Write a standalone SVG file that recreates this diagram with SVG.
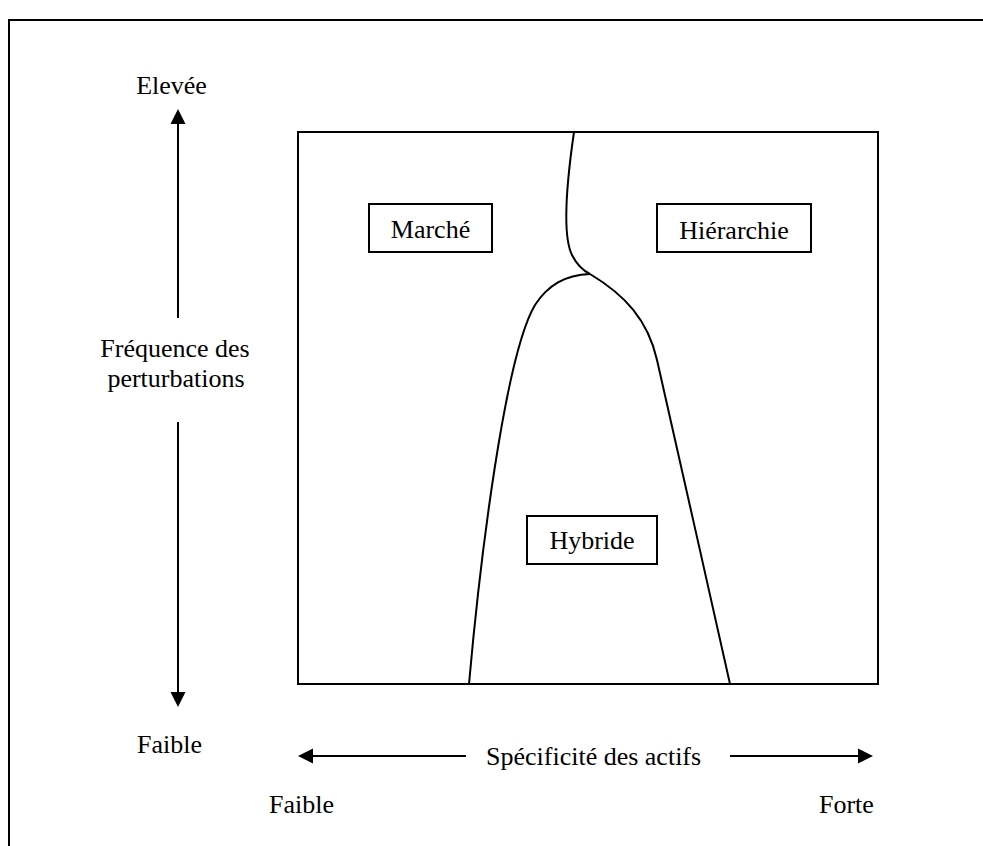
<svg xmlns="http://www.w3.org/2000/svg" width="983" height="846" viewBox="0 0 983 846">
<style>
text{font-family:"Liberation Serif","Times New Roman",serif;font-size:26px;fill:#000}
.box{fill:#fff;stroke:#000;stroke-width:2}
.ln{fill:none;stroke:#000;stroke-width:2}
.hd{fill:#000;stroke:none}
</style>
<rect width="983" height="846" fill="#fff"/>
<g id="frame"><path class="ln" d="M9,850 L9,20 L990,20"/></g>
<g id="plot"><rect class="box" x="298" y="132" width="580" height="552"/></g>
<g id="connectors">
<path class="ln" d="M574,132 C567,180 562,235 572,255 C578,267 584,271 590,274"/>
<path class="ln" d="M590,274 C625,295 648,320 657,360 C672,430 712,600 730,684"/>
<path class="ln" d="M590,274 C565,275 548,285 535,305 C505,355 480,560 469,684"/>
<line class="ln" x1="178" y1="120" x2="178" y2="318"/>
<polygon class="hd" points="178,109 170.5,124 185.5,124"/>
<line class="ln" x1="178" y1="422" x2="178" y2="696"/>
<polygon class="hd" points="178,707 170.5,692 185.5,692"/>
<line class="ln" x1="308" y1="756" x2="466" y2="756"/>
<polygon class="hd" points="298,756 313,748.5 313,763.5"/>
<line class="ln" x1="730" y1="756" x2="862" y2="756"/>
<polygon class="hd" points="873,756 858,748.5 858,763.5"/>
</g>
<g id="marche"><rect class="box" x="369" y="204" width="123" height="48"/><text x="430.5" y="238" text-anchor="middle">Marché</text></g>
<g id="hierarchie"><rect class="box" x="657" y="204" width="154" height="48"/><text x="734" y="239" text-anchor="middle">Hiérarchie</text></g>
<g id="hybride"><rect class="box" x="527" y="516" width="130" height="48"/><text x="592" y="549" text-anchor="middle">Hybride</text></g>
<g id="y-axis-labels">
<text x="171.5" y="94" text-anchor="middle">Elevée</text>
<text x="175" y="357" text-anchor="middle">Fréquence des</text>
<text x="176" y="387" text-anchor="middle">perturbations</text>
<text x="137" y="753">Faible</text>
</g>
<g id="x-axis-labels">
<text x="486" y="765">Spécificité des actifs</text>
<text x="269" y="813">Faible</text>
<text x="819" y="813">Forte</text>
</g>
</svg>
